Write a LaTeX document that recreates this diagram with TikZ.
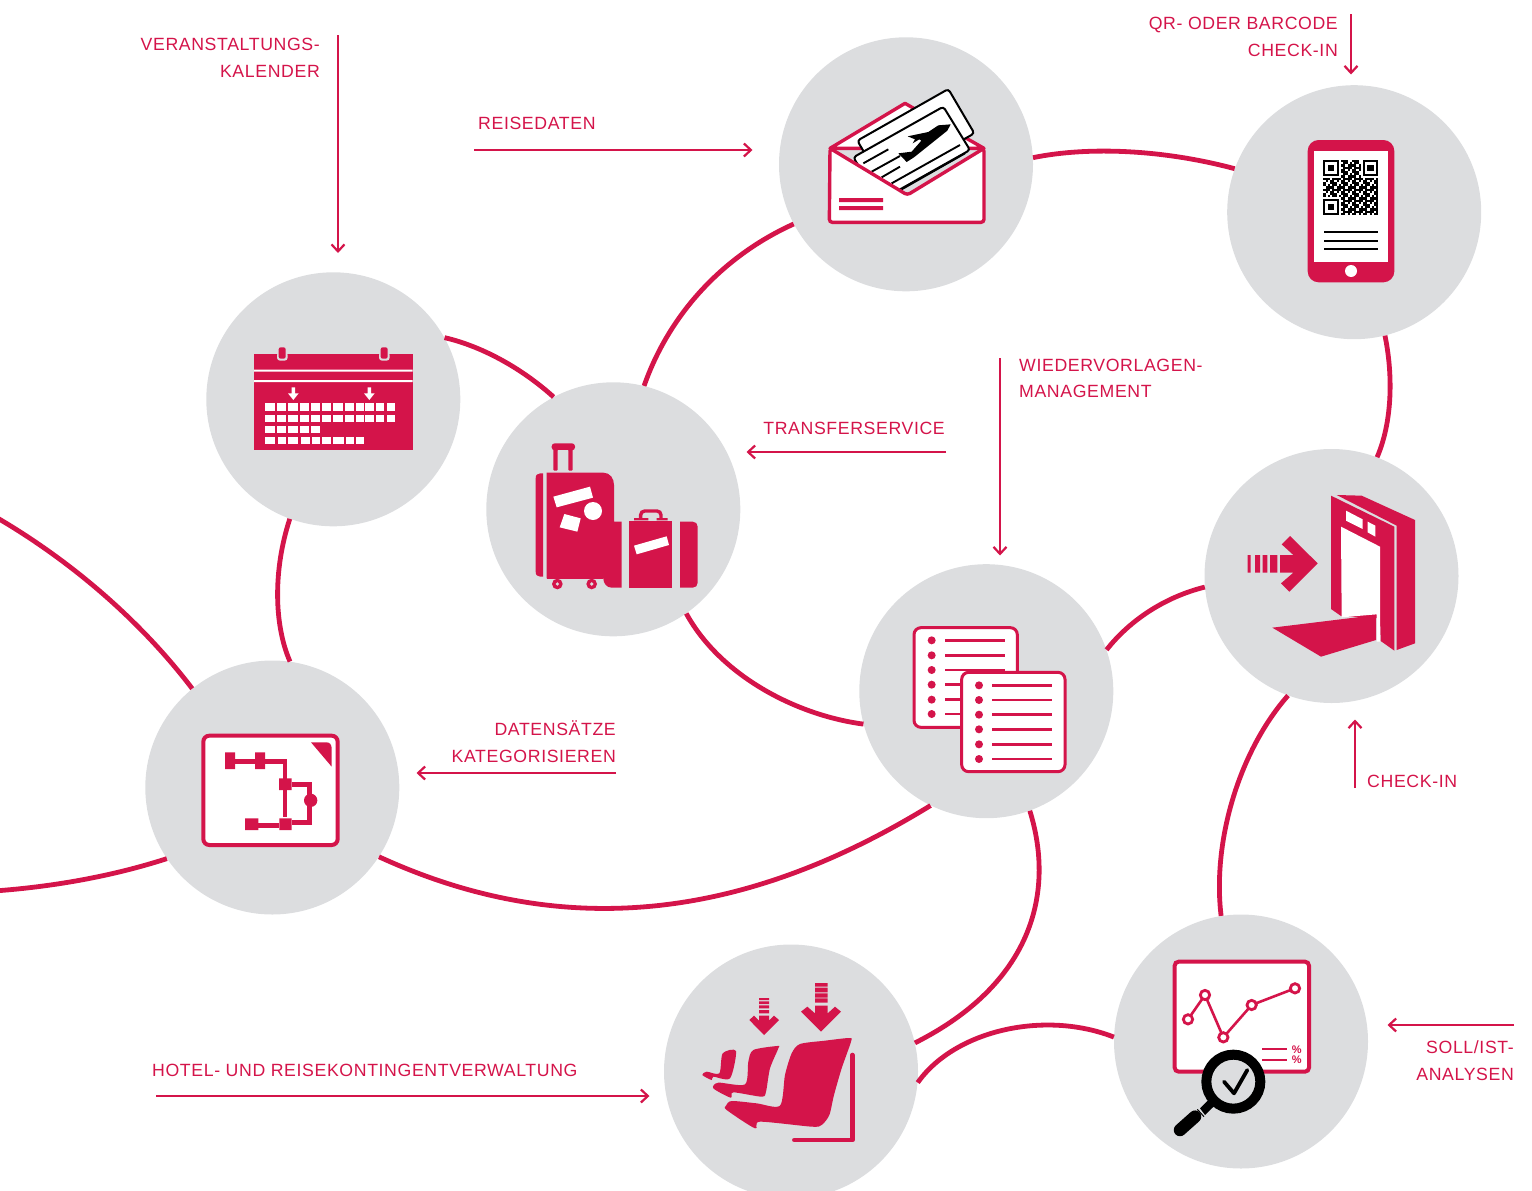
\documentclass[tikz,border=0pt]{standalone}
\usepackage{fontspec}
\setmainfont[LetterSpace=3.5]{Liberation Sans}
\usetikzlibrary{arrows.meta}
\definecolor{brand}{HTML}{D4144A}
\definecolor{disc}{HTML}{DCDDDF}
\tikzset{
  disc/.style={circle,fill=disc,minimum size=254pt,inner sep=0pt},
  link/.style={draw=brand,line width=4.8pt},
  pointer/.style={draw=brand,line width=2.2pt,-{Straight Barb[length=7pt,width=13pt,line width=2.2pt]}},
  lbl/.style={text=brand,inner sep=0pt,font=\fontsize{17.7}{26.7}\selectfont},
  icon/.style={x=0.33333pt,y=-0.33333pt},
}
\begin{document}
\begin{tikzpicture}[x=1pt,y=-1pt]
\useasboundingbox (0,0) rectangle (1532,1191);
% discs
\node[disc] (c1) at (333.3,399.3) {};
\node[disc] (c2) at (613.3,509.3) {};
\node[disc] (c3) at (906,164.3) {};
\node[disc] (c4) at (1354.2,212.2) {};
\node[disc] (c5) at (1331.5,576) {};
\node[disc] (c6) at (986.3,691.2) {};
\node[disc] (c7) at (272.3,787.5) {};
\node[disc] (c8) at (791,1071.5) {};
\node[disc] (c9) at (1241,1041.5) {};
% links
\coordinate (off1) at (-6,516);
\coordinate (off2) at (-6,891);
\draw[link] (c1.29) .. controls (485,347) and (525,371) .. (c2.118.6);
\draw[link] (c1.250.3) .. controls (273,570) and (274,625) .. (c7.82.3);
\draw[link] (c2.76.6) .. controls (670,312) and (725,255) .. (c3.208.2);
\draw[link] (c3.3.2) .. controls (1090,146) and (1165,150) .. (c4.160.1);
\draw[link] (c4.-76.8) .. controls (1394,380) and (1391,425) .. (c5.69.3);
\draw[link] (c5.185) .. controls (1165,597) and (1130,620) .. (c6.19.7);
\draw[link] (c2.-55.2) .. controls (720,675) and (795,715) .. (c6.195.6);
\draw[link] (c6.244.8) .. controls (725,932) and (545,933) .. (c7.-33.1);
\draw[link] (c6.-70.3) .. controls (1056,895) and (1030,985) .. (c8.13.6);
\draw[link] (c8.-5) .. controls (955,1030) and (1045,1010) .. (c9.178.2);
\draw[link] (c9.99.1) .. controls (1212,840) and (1240,750) .. (c5.-110.3);
\draw[link] (c7.129.5) .. controls (140,620) and (70,560) .. (off1);
\draw[link] (c7.214) .. controls (110,877) and (50,887) .. (off2);
% pointers and labels
\coordinate (p1a) at (338,35); \coordinate (p1b) at (338,253);
\draw[pointer] (p1a) -- (p1b);
\node[lbl,align=right,anchor=east] (t1) at (320,58) {VERANSTALTUNGS-\\KALENDER};
\coordinate (p2a) at (474,150); \coordinate (p2b) at (752.5,150);
\draw[pointer] (p2a) -- (p2b);
\node[lbl,anchor=base west] (t2) at (478,129) {REISEDATEN};
\coordinate (p3a) at (1351,14); \coordinate (p3b) at (1351,74.5);
\draw[pointer] (p3a) -- (p3b);
\node[lbl,align=right,anchor=east] (t3) at (1338,37) {QR- ODER BARCODE\\CHECK-IN};
\coordinate (p4a) at (946,452); \coordinate (p4b) at (746.5,452);
\draw[pointer] (p4a) -- (p4b);
\node[lbl,anchor=base east] (t4) at (945,434) {TRANSFERSERVICE};
\coordinate (p5a) at (1000,358); \coordinate (p5b) at (1000,555.5);
\draw[pointer] (p5a) -- (p5b);
\node[lbl,align=left,anchor=west] (t5) at (1019,378.5) {WIEDERVORLAGEN-\\MANAGEMENT};
\coordinate (p6a) at (616,773); \coordinate (p6b) at (416.5,773);
\draw[pointer] (p6a) -- (p6b);
\node[lbl,align=right,anchor=east] (t6) at (616,742) {DATENSÄTZE\\KATEGORISIEREN};
\coordinate (p7a) at (1355,788); \coordinate (p7b) at (1355,719.5);
\draw[pointer] (p7a) -- (p7b);
\node[lbl,anchor=base west] (t7) at (1367,787) {CHECK-IN};
\coordinate (p8a) at (156,1096); \coordinate (p8b) at (649.5,1096);
\draw[pointer] (p8a) -- (p8b);
\node[lbl,anchor=base west] (t8) at (152,1076) {HOTEL- UND REISEKONTINGENTVERWALTUNG};
\coordinate (p9a) at (1514,1025); \coordinate (p9b) at (1387.5,1025);
\draw[pointer] (p9a) -- (p9b);
\node[lbl,align=right,anchor=east] (t9) at (1514,1061) {SOLL/IST-\\ANALYSEN};

% ---- envelope and tickets
\begin{scope}[shift={(800,70)},icon]
\draw[draw=brand,fill=white,line width=3.4pt,line join=round] (90,235) -- (315,100) -- (552,235) -- cycle;
\draw[black,fill=white,line width=2pt,rounded corners=3pt] (172,212) -- (445,57) -- (523,190) -- (250,345) -- cycle;
\draw[black,fill=white,line width=2pt,rounded corners=3pt] (160,262) -- (430,110) -- (510,240) -- (240,392) -- cycle;
\draw[black,line width=1.9pt] (190,280) -- (265,238) (215,305) -- (300,258) (245,322) -- (300,290) (275,340) -- (480,225) (305,358) -- (495,250);
\fill[black] (452,163) -- (415,166) -- (385,186) -- (323,199) -- (345,208) -- (338,220) -- (358,208) -- (364,212) -- (335,245) -- (295,250) -- (320,276) -- (342,262) -- (442,182) -- cycle;
\draw[draw=brand,fill=white,line width=3.4pt,rounded corners=3pt] (90,235) -- (322,375) -- (552,235) -- (552,457) -- (88,457) -- cycle;
\fill[brand] (117,384) rectangle (249,396) (117,408) rectangle (249,420);
\end{scope}

% ---- phone
\begin{scope}[shift={(1290,130)},icon]
\fill[brand,rounded corners=11pt] (53,30) rectangle (313,457);
\fill[white] (73,62) rectangle (293,395);
\fill[white] (183,423) circle (18);
\foreach \i in {0,...,24}{\foreach \j in {0,...,24}{
  \pgfmathtruncatemacro{\zone}{(\i<8&&\j<8)||(\i>16&&\j<8)||(\i<8&&\j>16)}
  \pgfmathtruncatemacro{\val}{mod(\i*\i*3+\j*\j*5+\i*\j*7+\i+2*\j,5)}
  \ifnum\zone=0 \ifnum\val<3
    \fill[black] ({100+\i*6.6},{90+\j*6.6}) rectangle ++(6.6,6.6);
  \fi\fi
}}
\foreach \qx/\qy in {100/90,218/90,100/208}{
  \draw[black,line width=2.2pt] (\qx+3,\qy+3) rectangle ++(41,41);
  \fill[black] (\qx+14,\qy+14) rectangle ++(19,19);
}
\draw[black,line width=2pt] (102,305) -- (265,305) (102,332) -- (265,332) (102,358) -- (265,358);
\end{scope}

% ---- calendar
\begin{scope}[shift={(240,340)},icon]
\fill[brand] (42,42) rectangle (518,330);
\fill[white] (42,89) rectangle (518,95) (42,120) rectangle (518,126);
\foreach \rx in {111,417}{
  \fill[disc,rounded corners=3pt] (\rx,36) -- (\rx,62) -- (\rx+32,62) -- (\rx+32,36) -- cycle;
  \fill[brand,rounded corners=2pt] (\rx+5,22) -- (\rx+5,56) -- (\rx+26,56) -- (\rx+26,22) -- cycle;
}
\foreach \cx/\cw in {90/30,124/27,159/31,194/27,226/25,258/27,293/31,328/26,359/23,389/26,420/26,453/25}{
  \fill[white] (\cx-\cw/2,190) rectangle ++(\cw,22);
  \fill[white] (\cx-\cw/2,224) rectangle ++(\cw,22);
}
\foreach \cx/\cw in {90/30,124/27,159/31,194/27,226/25}{
  \fill[white] (\cx-\cw/2,258) rectangle ++(\cw,22);
}
\foreach \cx/\cw in {90/30,126/26,160/30,195/27,228/25,260/27,295/31,330/26,360/23}{
  \fill[white] (\cx-\cw/2,291) rectangle ++(\cw,22);
}
\foreach \ax in {160,388}{
  \fill[white] (\ax-5,142) -- (\ax+5,142) -- (\ax+5,160) -- (\ax+16,160) -- (\ax,180) -- (\ax-16,160) -- (\ax-5,160) -- cycle;
}
\end{scope}

% ---- luggage
\begin{scope}[shift={(525,435)},icon]
\fill[brand] (54,115) -- (46,115) .. controls (37,115) and (32,120) .. (32,130) -- (32,410) .. controls (32,420) and (37,425) .. (46,425) -- (54,425) -- cycle;
\fill[brand] (65,113) -- (235,113) .. controls (255,113) and (267,130) .. (267,150) -- (267,260) -- (290,260) -- (290,458) -- (260,458) .. controls (245,458) and (235,445) .. (235,430) -- (65,430) -- cycle;
\fill[brand,rounded corners=3pt] (80,46) -- (80,25) -- (150,25) -- (150,46) -- cycle;
\fill[brand,rounded corners=1pt] (85,40) rectangle (98,107) (130,40) rectangle (143,107);
\fill[disc] (98,46) rectangle (130,110);
\fill[brand] (97,447) circle (16);
\fill[brand] (200,447) circle (16);
\fill[disc] (97,447) circle (5.5);
\fill[disc] (200,447) circle (5.5);
\fill[brand] (65,425) rectangle (235,432);
\fill[white] (85,185) -- (195,155) -- (204,188) -- (95,217) -- cycle;
\fill[white] (118,237) -- (167,250) -- (157,290) -- (104,277) -- cycle;
\fill[white] (204,228) circle (27);
\fill[brand] (312,258) rectangle (441,458);
\fill[brand] (465,260) -- (503,260) .. controls (512,260) and (518,266) .. (518,275) -- (518,443) .. controls (518,452) and (512,458) .. (503,458) -- (465,458) -- cycle;
\draw[brand,line width=3.4pt,rounded corners=4pt] (347,250) -- (347,228) -- (408,228) -- (408,250);
\fill[brand] (327,249) rectangle (370,256) (395,249) rectangle (428,256);
\fill[white] (327,332) -- (425,304) -- (432,330) -- (335,358) -- cycle;
\end{scope}

% ---- gate
\begin{scope}[shift={(1235,485)},icon]
\fill[brand] (38,210) rectangle (47,263) (60,210) rectangle (75,263) (83,210) rectangle (97,263) (105,210) rectangle (127,263);
\fill[brand] (135,210) -- (175,210) -- (140,178) -- (165,153) -- (248,235) -- (163,320) -- (138,295) -- (175,263) -- (135,263) -- cycle;
\fill[brand] (305,30) -- (380,32) -- (540,105) -- (540,475) -- (485,495) -- (485,122) -- cycle;
\fill[brand] (288,32) -- (478,125) -- (478,497) -- (437,468) -- (435,400) -- (318,393) -- (288,372) -- cycle;
\fill[white] (318,125) -- (435,185) -- (435,470) -- (425,470) -- (425,388) -- (320,397) -- cycle;
\fill[white] (333,77) -- (383,103) -- (383,132) -- (333,107) -- cycle;
\fill[white] (398,110) -- (421,122) -- (421,155) -- (398,142) -- cycle;
\fill[brand] (112,428) -- (423,390) -- (423,465) -- (258,515) -- cycle;
\end{scope}

% ---- document stack
\begin{scope}[shift={(900,615)},icon]
\draw[brand,fill=white,line width=3pt,rounded corners=7pt] (42,38) rectangle (352,337);
\foreach \ly in {76,121,165,209,254,297}{
  \fill[brand] (95,\ly) circle (12);
  \draw[brand,line width=2.4pt] (135,\ly) -- (315,\ly);
}
\draw[brand,fill=white,line width=3pt,rounded corners=7pt] (185,172) rectangle (495,470);
\foreach \ly in {211,255,299,343,388,432}{
  \fill[brand] (237,\ly) circle (12);
  \draw[brand,line width=2.4pt] (277,\ly) -- (457,\ly);
}
\end{scope}

% ---- flow sheet
\begin{scope}[shift={(190,725)},icon]
\draw[brand,fill=white,line width=4pt,rounded corners=6pt] (40,32) rectangle (443,360);
\fill[brand] (363,52) -- (410,52) .. controls (420,52) and (425,60) .. (425,70) -- (425,125) -- cycle;
\draw[brand,line width=4.6pt] (135,110) -- (285,110) -- (285,275);
\draw[brand,line width=4.6pt] (305,178) -- (358,178) -- (358,292) -- (305,292);
\draw[brand,line width=4.6pt] (205,302) -- (268,302);
\fill[brand] (105,82) rectangle (135,132) (195,82) rectangle (225,132) (267,160) rectangle (305,195) (165,280) rectangle (205,315) (268,280) rectangle (305,315);
\fill[brand] (362,226) circle (20);
\end{scope}

% ---- seats
\begin{scope}[shift={(690,975)},icon]
\fill[brand] (375,24) rectangle (413,35) (375,38) rectangle (413,52) (375,55) rectangle (413,68) (375,70) rectangle (413,83);
\fill[brand] (333,110) -- (352,95) -- (375,115) -- (375,92) -- (413,92) -- (413,115) -- (435,95) -- (453,110) -- (393,170) -- cycle;
\fill[brand] (207,69) rectangle (237,75) (207,79) rectangle (237,87) (207,91) rectangle (237,100) (207,105) rectangle (237,115);
\fill[brand] (178,135) -- (192,122) -- (207,137) -- (207,122) -- (237,122) -- (237,137) -- (252,122) -- (267,135) -- (222,180) -- cycle;
\fill[brand] plot[smooth cycle,tension=.45] coordinates {(330,207) (405,197) (478,189) (483,200) (455,280) (432,360) (418,420) (395,450) (365,455) (210,440) (195,460) (110,405) (108,392) (125,378) (200,385) (270,392) (285,300) (305,235)};
\fill[brand] plot[smooth cycle,tension=.45] coordinates {(190,225) (262,213) (265,220) (240,280) (228,350) (215,365) (130,352) (122,368) (70,340) (85,323) (165,328) (175,260)};
\fill[brand] plot[smooth cycle,tension=.45] coordinates {(98,235) (138,228) (120,310) (70,305) (65,315) (37,300) (50,290) (88,295)};
\draw[brand,line width=4.6pt,line cap=round,line join=round] (487,240) -- (487,495) -- (313,495);
\end{scope}

% ---- chart and magnifier
\begin{scope}[shift={(1160,950)},icon]
\draw[brand,fill=white,line width=4pt,rounded corners=4pt] (44,35) rectangle (447,365);
\draw[brand,line width=2.6pt] (84,208) -- (135,135) -- (190,262) -- (275,165) -- (405,115);
\foreach \px/\py in {84/208,135/135,190/262,275/165,405/115}{
  \draw[brand,fill=white,line width=2.8pt] (\px,\py) circle (14);
}
\draw[brand,line width=2pt] (307,298) -- (382,298) (307,330) -- (382,330);
\node[text=brand,inner sep=0pt,font=\fontsize{11}{11}\bfseries\selectfont] (pc1) at (410,298) {\%};
\node[text=brand,inner sep=0pt,font=\fontsize{11}{11}\bfseries\selectfont] (pc2) at (410,330) {\%};
\fill[black] (120,475) -- (150,445) -- (168,463) -- (135,495) -- cycle;
\draw[black,line width=12.5pt,line cap=round] (105,500) -- (60,540);
\draw[disc,line width=1pt] (112,478) -- (132,500);
\draw[black,fill=disc,line width=10pt] (220,395) circle (81);
\draw[black,line width=3.8pt,line cap=round,line join=round] (192,395) -- (222,430) -- (262,360);
\end{scope}
\end{tikzpicture}
\end{document}
